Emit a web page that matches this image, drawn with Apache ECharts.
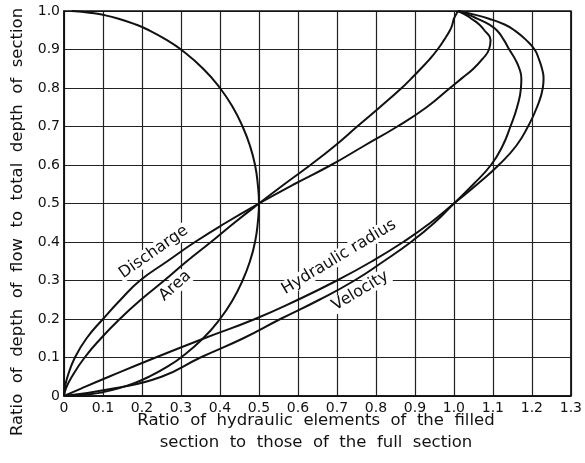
<!DOCTYPE html>
<html>
<head>
<meta charset="utf-8">
<script src="https://cdn.jsdelivr.net/npm/echarts@6/dist/echarts.min.js"></script>
<style>
  html, body { margin: 0; padding: 0; background: #fff; }
  #main { width: 585px; height: 463px; }
</style>
</head>
<body>
<div id="main"></div>
<script>
// depth ratio d/D (y) shared by the four element curves
var depthRatio = [0, 0.02, 0.05, 0.1, 0.15, 0.2, 0.25, 0.3, 0.35, 0.4, 0.45, 0.5,
  0.55, 0.6, 0.65, 0.7, 0.75, 0.8, 0.825, 0.85, 0.875, 0.9, 0.925, 0.95, 0.965, 0.98, 0.99, 1.0];

// element ratios (x)
var areaRatio = [0, 0.005, 0.02, 0.053, 0.095, 0.143, 0.197, 0.257, 0.315, 0.377, 0.437, 0.5,
  0.565, 0.632, 0.695, 0.752, 0.81, 0.866, 0.891, 0.915, 0.938, 0.958, 0.975, 0.99, 0.996, 1.0, 1.005, 1.01];
var dischargeRatio = [0, 0.002, 0.009, 0.028, 0.058, 0.1, 0.145, 0.195, 0.265, 0.336, 0.415, 0.5,
  0.59, 0.685, 0.77, 0.855, 0.93, 0.99, 1.02, 1.05, 1.073, 1.09, 1.094, 1.078, 1.065, 1.045, 1.03, 1.01];
var radiusRatio = [0, 0.045, 0.115, 0.235, 0.36, 0.49, 0.6, 0.7, 0.79, 0.87, 0.94, 1.0,
  1.06, 1.115, 1.16, 1.19, 1.213, 1.228, 1.23, 1.226, 1.218, 1.207, 1.185, 1.155, 1.13, 1.09, 1.055, 1.01];
var velocityRatio = [0, 0.13, 0.25, 0.35, 0.46, 0.555, 0.655, 0.745, 0.82, 0.89, 0.95, 1.0,
  1.05, 1.095, 1.125, 1.145, 1.162, 1.172, 1.173, 1.168, 1.157, 1.142, 1.128, 1.11, 1.09, 1.06, 1.038, 1.01];

// half of the pipe section drawn on the same axes
var sectionY = [0, 0.005, 0.01, 0.02, 0.035, 0.05, 0.075, 0.1, 0.15, 0.2, 0.25, 0.3, 0.35, 0.4, 0.45, 0.5,
  0.55, 0.6, 0.65, 0.7, 0.75, 0.8, 0.85, 0.9, 0.925, 0.95, 0.965, 0.98, 0.99, 0.995, 1.0];
var sectionX = [0, 0.07, 0.1, 0.14, 0.184, 0.218, 0.263, 0.3, 0.357, 0.4, 0.433, 0.458, 0.477, 0.49, 0.497, 0.5,
  0.497, 0.49, 0.477, 0.458, 0.433, 0.4, 0.357, 0.3, 0.263, 0.218, 0.184, 0.14, 0.1, 0.07, 0.02];

// curve labels: text, x, y, angle
var curveLabels = [
  ["Discharge", 0.23, 0.374, 35],
  ["Area", 0.285, 0.286, 42],
  ["Hydraulic radius", 0.705, 0.361, 31],
  ["Velocity", 0.76, 0.273, 31]
];

var FONT = "DejaVu Sans";

function pairs(xs, ys) {
  var out = [];
  for (var i = 0; i < xs.length; i++) {
    out.push([xs[i], ys[i]]);
  }
  return out;
}

function tickText(v) {
  if (v === 0) return "0";
  return v.toFixed(1);
}

function curve(name, xs, ys) {
  return {
    name: name,
    type: "line",
    smooth: 0.5,
    showSymbol: false,
    silent: true,
    lineStyle: { color: "#111", width: 2 },
    data: pairs(xs, ys),
  };
}

var chart = echarts.init(document.getElementById("main"));

var option = {
  backgroundColor: "#fff",
  animation: false,
  grid: { left: 64, right: 12, top: 11, bottom: 67 },
  xAxis: {
    type: "value",
    min: 0,
    max: 1.3,
    interval: 0.1,
    axisLine: { show: true, lineStyle: { color: "#111", width: 1.5 } },
    axisTick: { show: false },
    axisLabel: {
      color: "#111",
      fontFamily: FONT,
      fontSize: 14,
      margin: 5,
      formatter: tickText,
    },
    splitLine: { show: true, lineStyle: { color: "#222", width: 1.2 } },
  },
  yAxis: {
    type: "value",
    min: 0,
    max: 1,
    interval: 0.1,
    axisLine: { show: true, lineStyle: { color: "#111", width: 1.5 } },
    axisTick: { show: false },
    axisLabel: {
      color: "#111",
      fontFamily: FONT,
      fontSize: 14,
      margin: 4,
      formatter: tickText,
    },
    splitLine: { show: true, lineStyle: { color: "#222", width: 1.2 } },
  },
  series: [
    curve("Area", areaRatio, depthRatio),
    curve("Discharge", dischargeRatio, depthRatio),
    curve("Hydraulic radius", radiusRatio, depthRatio),
    curve("Velocity", velocityRatio, depthRatio),
    curve("Section", sectionX, sectionY),
  ],
};
chart.setOption(option);

// frame on top and right, axis titles and curve names
var graphics = [];
var tl = chart.convertToPixel({ gridIndex: 0 }, [0, 1]);
var br = chart.convertToPixel({ gridIndex: 0 }, [1.3, 0]);
graphics.push({
  type: "rect",
  shape: { x: tl[0], y: tl[1], width: br[0] - tl[0], height: br[1] - tl[1] },
  style: { fill: null, stroke: "#111", lineWidth: 1.5 },
  z: 10,
});
graphics.push({
  type: "text",
  x: 18,
  y: 222,
  rotation: Math.PI / 2,
  style: {
    text: "Ratio  of  depth  of  flow  to  total  depth  of  section",
    font: "16.5px " + FONT,
    fill: "#111",
    align: "center",
    verticalAlign: "middle",
  },
});
graphics.push({
  type: "text",
  x: 316,
  y: 432,
  style: {
    text: "Ratio  of  hydraulic  elements  of  the  filled\nsection  to  those  of  the  full  section",
    font: "16.5px " + FONT,
    fill: "#111",
    align: "center",
    verticalAlign: "middle",
    lineHeight: 22,
  },
});
curveLabels.forEach(function (l) {
  var p = chart.convertToPixel({ gridIndex: 0 }, [l[1], l[2]]);
  graphics.push({
    type: "text",
    x: p[0],
    y: p[1],
    rotation: l[3] * Math.PI / 180,
    z: 20,
    style: {
      text: l[0],
      font: "16px " + FONT,
      fill: "#111",
      align: "center",
      verticalAlign: "middle",
      backgroundColor: "#fff",
      padding: [0, 2],
    },
  });
});
chart.setOption({ graphic: graphics });
</script>
</body>
</html>
